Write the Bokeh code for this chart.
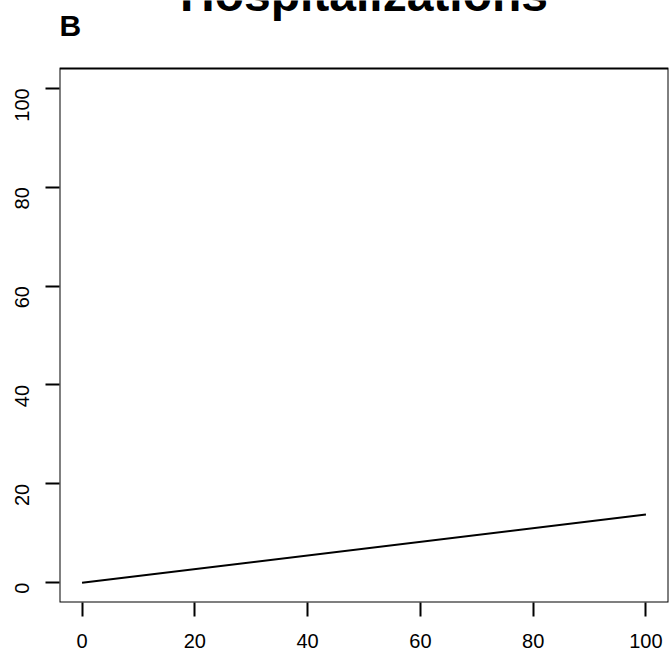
import math
from bokeh.plotting import figure
from bokeh.models import Range1d, FixedTicker, Label, ColumnDataSource, BoxAnnotation
from bokeh.embed import file_html
from bokeh.resources import INLINE

# ---- data ----
x_vals = [0, 100]
y_vals = [0, 13.8]
x_ticks = [0, 20, 40, 60, 80, 100]
y_ticks = [0, 20, 40, 60, 80, 100]
title_text = "Hospitalizations"
panel_tag = "B"

# ---- layout / style constants ----
FONT = "Liberation Sans"
W, H = 669, 655
BORDER_LEFT, BORDER_RIGHT, BORDER_BOTTOM = 59, 1, 53
BOX_TOP_PX = 68            # top of the R plot box, pixels from canvas top
LIM = (-4, 104)            # R's 4% extended limits for 0..100
TITLE_POS_PX = -6.5
TAG_POS_PX = 25

frame_h = H - BORDER_BOTTOM                 # frame spans canvas top .. bottom border
px_per_unit = (frame_h - BOX_TOP_PX) / (LIM[1] - LIM[0])
y_top = LIM[1] + BOX_TOP_PX / px_per_unit


def y_at_px(py):
    return LIM[1] + (BOX_TOP_PX - py) / px_per_unit


p = figure(width=W, height=H, output_backend="svg", toolbar_location=None,
           x_range=Range1d(*LIM), y_range=Range1d(LIM[0], y_top),
           min_border_left=BORDER_LEFT, min_border_right=BORDER_RIGHT,
           min_border_top=0, min_border_bottom=BORDER_BOTTOM,
           background_fill_color="white", border_fill_color="white")

p.grid.visible = False
p.outline_line_color = None

for ax in (p.xaxis[0], p.yaxis[0]):
    ax.axis_line_color = None
    ax.major_tick_in = 0
    ax.major_tick_out = 14
    ax.major_tick_line_width = 2
    ax.major_tick_line_color = "black"
    ax.minor_tick_line_color = None
    ax.major_label_text_font = FONT
    ax.major_label_text_font_size = "20px"
    ax.major_label_text_color = "black"

p.xaxis[0].ticker = FixedTicker(ticks=x_ticks)
p.yaxis[0].ticker = FixedTicker(ticks=y_ticks)
p.xaxis[0].major_label_standoff = 17
p.yaxis[0].major_label_standoff = 23
p.yaxis[0].major_label_orientation = math.pi / 2

# R plot box
p.add_layout(BoxAnnotation(left=LIM[0], right=LIM[1], bottom=LIM[0], top=LIM[1],
                           fill_alpha=0, line_color="black", line_width=2,
                           line_alpha=1))

src = ColumnDataSource(dict(x=x_vals, y=y_vals))
p.line("x", "y", source=src, line_color="black", line_width=2)

p.add_layout(Label(x=(LIM[0] + LIM[1]) / 2, y=y_at_px(TITLE_POS_PX), text=title_text,
                   text_align="center", text_baseline="alphabetic", text_font=FONT,
                   text_font_style="bold", text_font_size="48px", text_color="black"))
p.add_layout(Label(x=LIM[0], y=y_at_px(TAG_POS_PX), text=panel_tag, text_align="left",
                   text_baseline="alphabetic", text_font=FONT, text_font_style="bold",
                   text_font_size="30px", text_color="black"))

open("out.html", "w").write(file_html(p, INLINE))
